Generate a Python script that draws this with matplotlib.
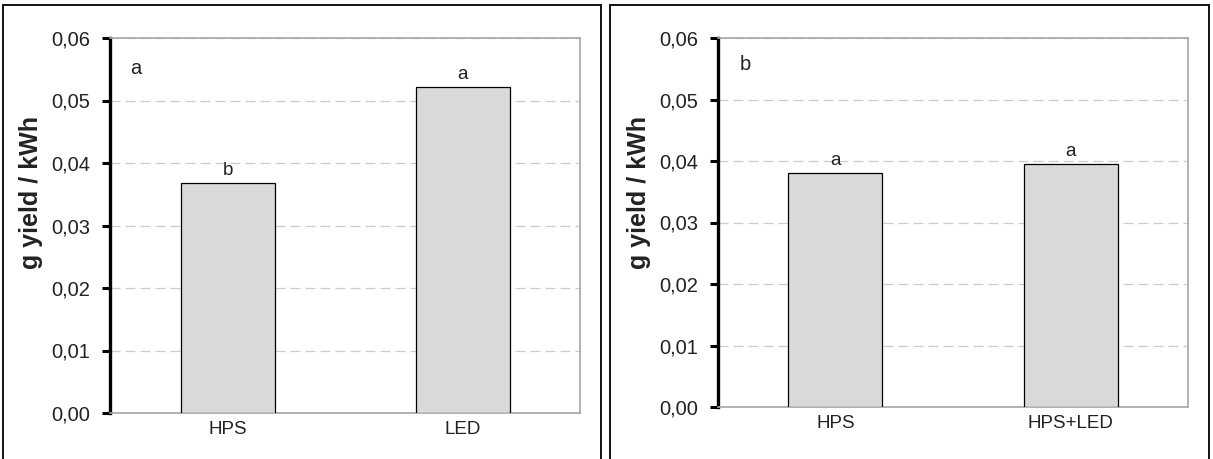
import numpy as np
import matplotlib.pyplot as plt
from matplotlib.patches import Rectangle

plt.rcParams['font.family'] = ['Liberation Sans', 'DejaVu Sans']

# data
cats_a = ['HPS', 'LED']
vals_a = [0.0368, 0.0522]
sig_a = ['b', 'a']

cats_b = ['HPS', 'HPS+LED']
vals_b = [0.0380, 0.0395]
sig_b = ['a', 'a']

yticks = [0.0, 0.01, 0.02, 0.03, 0.04, 0.05, 0.06]
ylabel = 'g yield / kWh'

W, H = 1213, 459
fig = plt.figure(figsize=(W / 100, H / 100), dpi=100)

# outer frames around each panel
for x0, x1 in [(3, 601), (610, 1209)]:
    fig.patches.append(Rectangle((x0 / W, -0.05), (x1 - x0) / W, 1.05 - 5 / H,
                                 transform=fig.transFigure, fill=False,
                                 edgecolor='black', linewidth=1.3))


def panel(rect, cats, vals, sig, letter, lab_y, let_pos):
    ax = fig.add_axes(rect)
    x = np.arange(len(cats))
    ax.bar(x, vals, width=0.4, color='#d9d9d9', edgecolor='black', linewidth=0.9, zorder=3)
    for xi, v, s in zip(x, vals, sig):
        ax.annotate(s, (xi, v), xytext=(0, 3), textcoords='offset points',
                    ha='center', va='bottom', fontsize=13.5, color='#222222')
    ax.set_xlim(-0.5, 1.5)
    ax.set_ylim(0, 0.06)
    ax.set_yticks(yticks)
    ax.set_yticklabels([f'{t:.2f}'.replace('.', ',') for t in yticks])
    ax.set_xticks(x)
    ax.set_xticklabels(cats)
    ax.tick_params(axis='y', direction='out', length=6, width=2.2, pad=8,
                   labelsize=14.5, colors='black', labelcolor='#222222')
    ax.tick_params(axis='x', length=0, pad=6, labelsize=13.5, labelcolor='#222222')
    ax.grid(axis='y', color='#cccccc', linestyle=(0, (8, 4)), linewidth=0.9, zorder=0)
    for side in ['top', 'right', 'bottom']:
        ax.spines[side].set_color('#a6a6a6')
        ax.spines[side].set_linewidth(1.2)
    ax.spines['left'].set_linewidth(2.4)
    ax.spines['left'].set_color('black')
    ax.set_ylabel(ylabel, fontsize=18, fontweight='bold', color='#222222')
    ax.yaxis.set_label_coords(-0.142, lab_y)
    ax.text(let_pos[0], let_pos[1], letter, transform=ax.transAxes, fontsize=14.5,
            ha='left', va='center', color='#222222')
    return ax


panel([110 / W, 1 - 413 / H, 470 / W, 375 / H], cats_a, vals_a, sig_a, 'a', 0.587, (0.043, 0.92))
panel([718 / W, 1 - 407 / H, 470 / W, 369 / H], cats_b, vals_b, sig_b, 'b', 0.58, (0.047, 0.927))

fig.savefig('out.png', dpi=100)
